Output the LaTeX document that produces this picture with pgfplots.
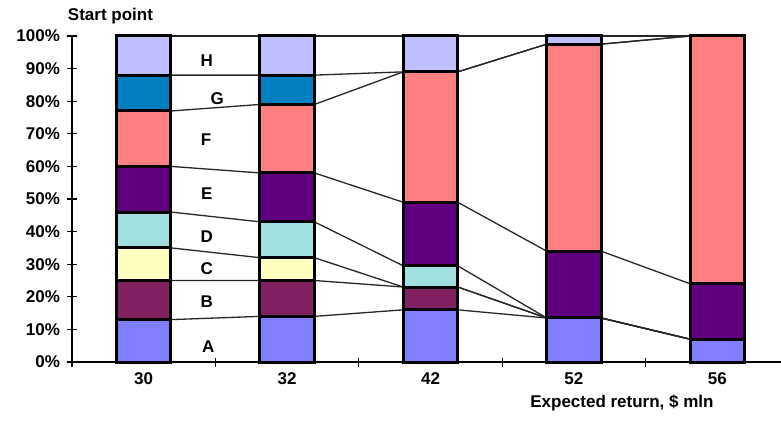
\documentclass[border=0pt]{standalone}
\usepackage{pgfplots}
\pgfplotsset{compat=1.18}
\usepackage{pgfplotstable}
\usepackage{fontspec}
\setmainfont{Liberation Sans}

\newcommand\lbl{\fontsize{17}{20}\selectfont\bfseries}

\definecolor{segA}{HTML}{8080FF}
\definecolor{segB}{HTML}{802060}
\definecolor{segC}{HTML}{FFFFC0}
\definecolor{segD}{HTML}{A0E0E0}
\definecolor{segE}{HTML}{600080}
\definecolor{segF}{HTML}{FF8080}
\definecolor{segG}{HTML}{0080C0}
\definecolor{segH}{HTML}{C0C0FF}

% share of each segment (%) per expected return
\pgfplotstableread{
x A    B  C  D   E    F    G  H
0 13   12 10 11  14   17   11 12
1 14   11 7  11  15   21   9  12
2 16   7  0  6.5 19.5 40   0  11
3 13.5 0  0  0   20.5 63.5 0  2.5
4 7    0  0  0   17   76   0  0
}\shares

% cumulative segment tops at the left/right edges of the bars
\pgfplotstableread{
xe   cA   cB   cC   cD   cE cF   cG   cH
0.19 13   25   35   46   60 77   88   100
0.81 14   25   32   43   58 79   88   100
1.19 14   25   32   43   58 79   88   100
1.81 16   23   23   29.5 49 89   89   100
2.19 16   23   23   29.5 49 89   89   100
2.81 13.5 13.5 13.5 13.5 34 97.5 97.5 100
3.19 13.5 13.5 13.5 13.5 34 97.5 97.5 100
3.81 7    7    7    7    24 100  100  100
}\edges

\pgfplotsset{
  frame/.style={
    scale only axis, width=709pt, height=326pt,
    xmin=-0.5, xmax=4.444, ymin=0, ymax=100,
    clip=false,
  },
}

\begin{document}
\begin{tikzpicture}
% connectors between the bars
\begin{axis}[frame, hide axis]
  \pgfplotsinvokeforeach{cA,cB,cC,cD,cE,cF,cG,cH}{
    \addplot[black!85, line width=1.3pt, mark=none] table[x=xe, y=#1]{\edges};
  }
\end{axis}

% stacked bars and axes
\begin{axis}[frame,
  ybar stacked, bar width=0.38,
  axis x line=bottom, axis y line=left,
  axis line style={-, black, line width=1.2pt},
  tick style={black, line width=1.2pt},
  tick align=center, major tick length=9pt,
  ytick={0,10,...,100},
  yticklabel={\pgfmathprintnumber[assume math mode=true]{\tick}\%},
  yticklabel style={font=\lbl, xshift=-4pt},
  xtick={-0.5,0.5,1.5,2.5,3.5}, xticklabels={},
  extra x ticks={0,1,2,3,4},
  extra x tick labels={30,32,42,52,56},
  extra x tick style={major tick length=0pt,
    tick label style={font=\lbl, yshift=-7pt}},
]
  \addplot[fill=segA, draw=black, line width=3pt] table[x=x, y=A]{\shares};
  \addplot[fill=segB, draw=black, line width=3pt] table[x=x, y=B]{\shares};
  \addplot[fill=segC, draw=black, line width=3pt] table[x=x, y=C]{\shares};
  \addplot[fill=segD, draw=black, line width=3pt] table[x=x, y=D]{\shares};
  \addplot[fill=segE, draw=black, line width=3pt] table[x=x, y=E]{\shares};
  \addplot[fill=segF, draw=black, line width=3pt] table[x=x, y=F]{\shares};
  \addplot[fill=segG, draw=black, line width=3pt] table[x=x, y=G]{\shares};
  \addplot[fill=segH, draw=black, line width=3pt] table[x=x, y=H]{\shares};

  \node[font=\lbl] at (axis cs:0.44,92.3) {H};
  \node[font=\lbl] at (axis cs:0.513,80.9) {G};
  \node[font=\lbl] at (axis cs:0.434,68.1) {F};
  \node[font=\lbl] at (axis cs:0.44,51.7) {E};
  \node[font=\lbl] at (axis cs:0.44,38.4) {D};
  \node[font=\lbl] at (axis cs:0.44,28.7) {C};
  \node[font=\lbl] at (axis cs:0.44,18.5) {B};
  \node[font=\lbl] at (axis cs:0.45,4.7) {A};

  \node[font=\lbl, anchor=base] at (axis cs:-0.232,104.7) {Start point};
  \node[font=\lbl, anchor=base] at (axis cs:3.335,-14.1) {Expected return, \$ mln};
\end{axis}
\pgfresetboundingbox
\path (-72pt,-59pt) rectangle (709pt,362pt);
\end{tikzpicture}
\end{document}
